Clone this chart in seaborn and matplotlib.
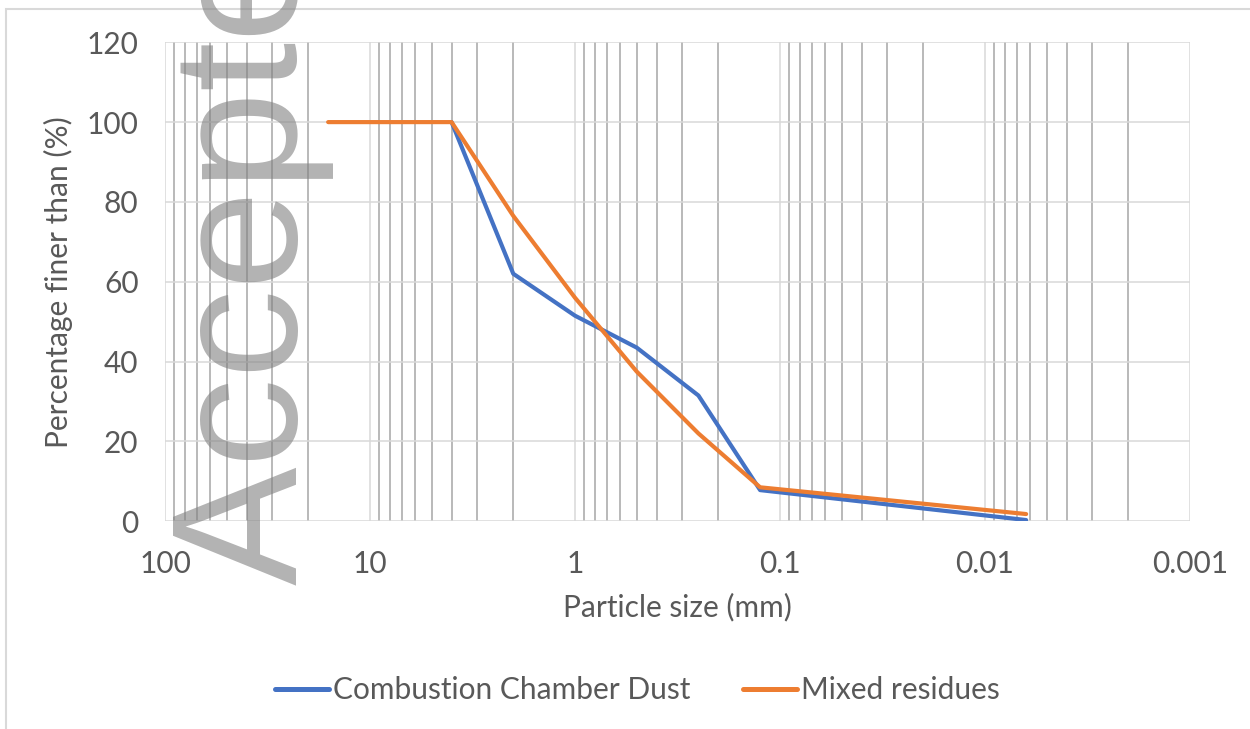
import numpy as np
import pandas as pd
import matplotlib
matplotlib.use("Agg")
import matplotlib.pyplot as plt
import matplotlib.ticker as mticker
from matplotlib.patches import Rectangle
import seaborn as sns

# Particle size distribution
ccd_size = [4, 2, 1, 0.5, 0.25, 0.125, 0.0063]
ccd_finer = [100, 62, 51.5, 43.5, 31.5, 7.8, 0.3]

mix_size = [16, 4, 2, 1, 0.5, 0.25, 0.125, 0.0063]
mix_finer = [100, 100, 76.5, 56, 37.5, 22, 8.5, 1.8]

series_names = ["Combustion Chamber Dust", "Mixed residues"]
series_colors = ["#4472C4", "#ED7D31"]
x_ticks = [100, 10, 1, 0.1, 0.01, 0.001]
y_ticks = [0, 20, 40, 60, 80, 100, 120]

df = pd.concat([
    pd.DataFrame({"size": ccd_size, "finer": ccd_finer, "series": series_names[0]}),
    pd.DataFrame({"size": mix_size, "finer": mix_finer, "series": series_names[1]}),
])

sns.set_theme(style="white")
plt.rcParams["font.family"] = ["Lato", "DejaVu Sans"]
text_color = "#595959"
fs = 21.5

fig = plt.figure(figsize=(12.5, 7.29), dpi=100)
ax = fig.add_axes([0.132, 0.285, 0.820, 0.657])

sns.lineplot(data=df, x="size", y="finer", hue="series", hue_order=series_names,
             palette=series_colors, estimator=None, sort=False, linewidth=3,
             ax=ax, legend=False)

ax.set_xscale("log")
ax.set_xlim(100, 0.001)
ax.set_ylim(0, 120)
ax.set_xticks(x_ticks)
ax.xaxis.set_major_formatter(mticker.FuncFormatter(lambda v, p: f"{v:g}"))
ax.xaxis.set_minor_locator(mticker.LogLocator(base=10, subs=np.arange(2, 10)))
ax.xaxis.set_minor_formatter(mticker.NullFormatter())
ax.set_yticks(y_ticks)

ax.grid(True, which="major", axis="both", color="#d9d9d9", linewidth=1.1, zorder=0)
ax.grid(True, which="minor", axis="x", color="#a6a6a6", linewidth=1.1, zorder=0)
ax.set_axisbelow(True)
for s in ax.spines.values():
    s.set_visible(False)
ax.tick_params(axis="both", which="both", length=0, labelsize=fs,
               labelcolor=text_color)
ax.tick_params(axis="x", pad=21)
ax.tick_params(axis="y", pad=19)

ax.set_xlabel("Particle size (mm)", fontsize=fs, color=text_color, labelpad=10)
ax.set_ylabel("Percentage finer than (%)", fontsize=fs, color=text_color, labelpad=10)

handles = [plt.Line2D([0], [0], color=c, linewidth=3.6, solid_capstyle="round")
           for c in series_colors]
fig.legend(handles, series_names, loc="center", bbox_to_anchor=(0.51, 1 - 690 / 729),
           ncol=2, frameon=False, fontsize=fs, labelcolor=text_color,
           handlelength=1.8, handletextpad=0.15, columnspacing=1.75)

# chart frame
fig.patches.append(Rectangle((6 / 1250, -0.1), 1.2, 1 - 9 / 729 + 0.1,
                             transform=fig.transFigure, fill=False,
                             edgecolor="#d9d9d9", linewidth=1.5))

# watermark
fig.text(297 / 1250, 1 - 585 / 729, "Accepted Manuscript", rotation=90,
         rotation_mode="anchor", ha="left", va="baseline", fontsize=128,
         family="Liberation Sans", color="#808080", alpha=0.6, zorder=10)

fig.savefig("out.png", dpi=100)
